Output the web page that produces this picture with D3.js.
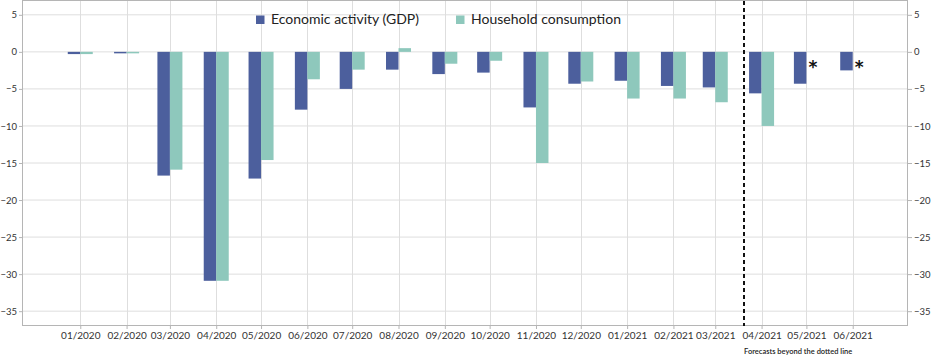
<!DOCTYPE html>
<html>
<head>
<meta charset="utf-8">
<script src="https://cdn.jsdelivr.net/npm/d3@7"></script>
<style>
  html, body { margin: 0; padding: 0; background: #fff; }
  svg { display: block; }
</style>
</head>
<body>
<svg id="chart" width="931" height="357"></svg>
<script>
const months = ["2020-01","2020-02","2020-03","2020-04","2020-05","2020-06","2020-07","2020-08","2020-09","2020-10","2020-11","2020-12","2021-01","2021-02","2021-03","2021-04","2021-05","2021-06"];
const gdp = [-0.3,-0.2,-16.7,-30.9,-17.1,-7.8,-5.0,-2.4,-3.0,-2.8,-7.5,-4.3,-3.9,-4.6,-4.8,-5.6,-4.3,-2.5];
const household = [-0.3,-0.2,-15.9,-30.9,-14.6,-3.7,-2.4,0.5,-1.6,-1.2,-15.0,-4.0,-6.3,-6.3,-6.8,-10.0,null,null];
const yTicks = [5,0,-5,-10,-15,-20,-25,-30,-35];
const forecastDate = "2021-03-20";
const starredMonths = ["2021-05","2021-06"];
const seriesNames = ["Economic activity (GDP)", "Household consumption"];
const footnote = "Forecasts beyond the dotted line";

const colors = ["#4c5f9d", "#8ec8bc"];
const W = 931, H = 357;
const m = {left: 22, right: 23, top: 0, bottom: 31};
const parse = d3.timeParse("%Y-%m");
const dates = months.map(parse);

const svg = d3.select("#chart");
const x = d3.scaleTime()
  .domain([new Date(2019, 10, 23), new Date(2021, 6, 8)])
  .range([m.left, W - m.right]);
const y = d3.scaleLinear().domain([-37, 7]).range([H - m.bottom, m.top]);

const font = "Lato, 'Open Sans', sans-serif";
const textColor = "#333";

// horizontal gridlines
svg.append("g").selectAll("line").data(yTicks).join("line")
  .attr("x1", m.left).attr("x2", W - m.right)
  .attr("y1", d => y(d)).attr("y2", d => y(d))
  .attr("stroke", "#dedede").attr("stroke-width", 1);
// vertical gridlines
svg.append("g").selectAll("line").data(dates).join("line")
  .attr("x1", d => Math.round(x(d)) + 0.5).attr("x2", d => Math.round(x(d)) + 0.5)
  .attr("y1", m.top).attr("y2", H - m.bottom)
  .attr("stroke", "#dedede").attr("stroke-width", 1);

// frame
svg.append("rect")
  .attr("x", m.left + 0.5).attr("y", m.top + 0.5)
  .attr("width", W - m.left - m.right - 1).attr("height", H - m.top - m.bottom - 1)
  .attr("fill", "none").attr("stroke", "#b5b5b5");

const barW = 12.5;
const gBars = svg.append("g");
gBars.selectAll("rect.gdp").data(gdp.map((v, i) => ({v, d: dates[i]}))).join("rect")
  .attr("class", "gdp")
  .attr("x", d => x(d.d) - barW)
  .attr("width", barW)
  .attr("y", d => y(Math.max(0, d.v)))
  .attr("height", d => Math.abs(y(d.v) - y(0)))
  .attr("fill", colors[0]);
gBars.selectAll("rect.hh").data(household.map((v, i) => ({v, d: dates[i]})).filter(d => d.v !== null)).join("rect")
  .attr("class", "hh")
  .attr("x", d => x(d.d))
  .attr("width", barW)
  .attr("y", d => y(Math.max(0, d.v)))
  .attr("height", d => Math.abs(y(d.v) - y(0)))
  .attr("fill", colors[1]);

// axes
const axL = svg.append("g").attr("transform", `translate(${m.left},0)`)
  .call(d3.axisLeft(y).tickValues(yTicks).tickSize(3).tickPadding(2));
const axR = svg.append("g").attr("transform", `translate(${W - m.right},0)`)
  .call(d3.axisRight(y).tickValues(yTicks).tickSize(4).tickPadding(2));
const axB = svg.append("g").attr("transform", `translate(0,${H - m.bottom})`)
  .call(d3.axisBottom(x).tickValues(dates).tickFormat(d3.timeFormat("%m/%Y")).tickSize(3).tickPadding(3));
[axL, axR, axB].forEach(a => {
  a.select(".domain").remove();
  a.selectAll(".tick line").attr("stroke", "#b5b5b5");
  a.selectAll(".tick text").attr("fill", textColor).style("font-family", font).style("font-size", "10px");
});
[axL, axR].forEach(a => a.selectAll(".tick text").style("font-size", "9.5px"));

// forecast dashed line
const fx = Math.round(x(d3.timeParse("%Y-%m-%d")(forecastDate)));
svg.append("line")
  .attr("x1", fx).attr("x2", fx)
  .attr("y1", m.top + 1).attr("y2", H - m.bottom)
  .attr("stroke", "#111").attr("stroke-width", 2)
  .attr("stroke-dasharray", "4,3");

// asterisks
svg.append("g").selectAll("text").data(starredMonths.map(parse)).join("text")
  .attr("x", d => x(d) + 2)
  .attr("y", y(-1.6))
  .attr("dy", "0.55em")
  .attr("fill", "#111")
  .style("font-family", "'DejaVu Sans', sans-serif")
  .style("font-size", "17px")
  .style("font-weight", "bold")
  .text("*");

// footnote
svg.append("text")
  .attr("x", fx).attr("y", 354)
  .attr("fill", "#222")
  .style("font-family", font).style("font-size", "7.5px").style("font-weight", "600")
  .text(footnote);

// legend
const legX = [256, 456];
const lg = svg.append("g");
seriesNames.forEach((name, i) => {
  lg.append("rect").attr("x", legX[i]).attr("y", 15.5).attr("width", 8.5).attr("height", 8.5).attr("fill", colors[i]);
  lg.append("text").attr("x", legX[i] + 15).attr("y", 23.5)
    .attr("fill", "#222")
    .style("font-family", font).style("font-size", "14px")
    .text(name);
});
</script>
</body>
</html>
